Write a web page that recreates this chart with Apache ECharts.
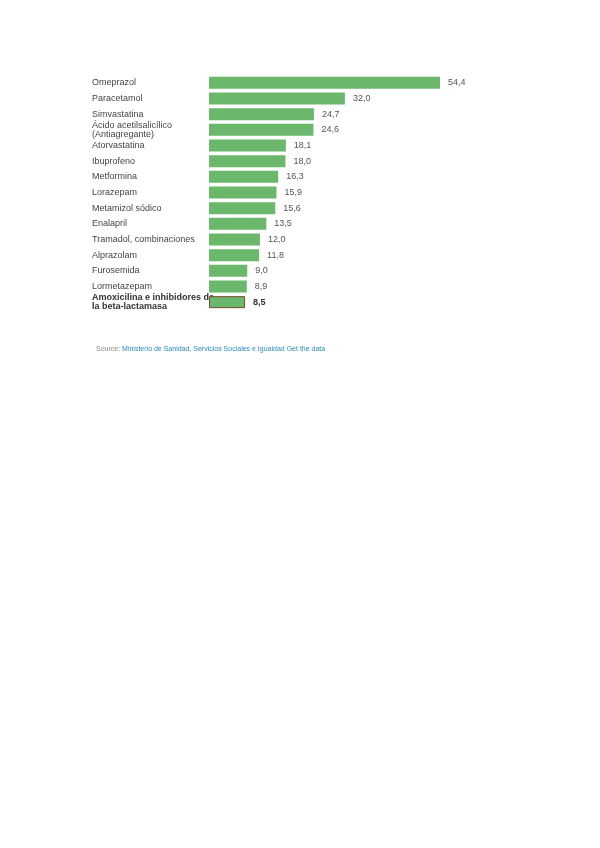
<!DOCTYPE html>
<html><head><meta charset="utf-8">
<script src="https://cdn.jsdelivr.net/npm/echarts@6/dist/echarts.min.js"></script>
<style>html,body{margin:0;background:#fff}#c{width:600px;height:848px}</style>
</head><body><div id="c"></div>
<script>
// Medicamentos más dispensados (millones de envases)
const drugs = [
  'Omeprazol', 'Paracetamol', 'Simvastatina', 'Ácido acetilsalicílico\n(Antiagregante)',
  'Atorvastatina', 'Ibuprofeno', 'Metformina', 'Lorazepam', 'Metamizol sódico',
  'Enalapril', 'Tramadol, combinaciones', 'Alprazolam', 'Furosemida', 'Lormetazepam',
  'Amoxicilina e inhibidores de\nla beta-lactamasa',
];
const values = [54.4, 32.0, 24.7, 24.6, 18.1, 18.0, 16.3, 15.9, 15.6, 13.5, 12.0, 11.8, 9.0, 8.9, 8.5];
const fmt = (v) => v.toFixed(1).replace('.', ',');
const last = drugs.length - 1;

const chart = echarts.init(document.getElementById('c'));
chart.setOption({
  animation: false,
  grid: { left: 209, right: 160, top: 75, height: 235 },
  xAxis: { type: 'value', min: 0, max: 54.4, show: false },
  yAxis: {
    type: 'category', inverse: true, data: drugs,
    axisLine: { show: false }, axisTick: { show: false },
    axisLabel: {
      align: 'left', margin: 117, color: '#444', fontSize: 9, lineHeight: 9,
      fontFamily: 'Liberation Sans',
      formatter: (v, i) => (i === last ? `{b|${v}}` : v),
      rich: { b: { fontWeight: 'bold', fontSize: 9, lineHeight: 9, color: '#333' } },
    },
  },
  series: [{
    type: 'bar', barWidth: 12,
    data: values.map((v, i) => ({
      value: v,
      itemStyle: i === last ? { borderColor: '#7a4a2a', borderWidth: 1 } : {},
      label: i === last ? { fontWeight: 'bold', color: '#333' } : {},
    })),
    itemStyle: { color: '#6bb76b' },
    label: {
      show: true, position: 'right', distance: 8, color: '#555', fontSize: 9,
      fontFamily: 'Liberation Sans', formatter: (p) => fmt(p.value),
    },
  }],
  graphic: [{
    type: 'text', left: 96, top: 346,
    style: {
      text: 'Source: {l|Ministerio de Sanidad, Servicios Sociales e Igualdad Get the data}',
      fontSize: 7, fill: '#888', fontFamily: 'Liberation Sans',
      rich: { l: { fill: '#2a8ab8', fontSize: 7 } },
    },
  }],
});
</script></body></html>
